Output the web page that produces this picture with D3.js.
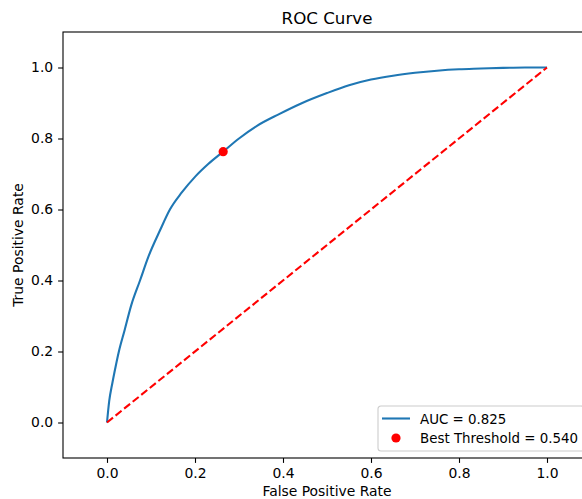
<!DOCTYPE html>
<html>
<head>
<meta charset="utf-8">
<script src="https://cdn.jsdelivr.net/npm/d3@7"></script>
<style>
  body { margin: 0; background: #fff; }
  svg text { font-family: "DejaVu Sans", sans-serif; }
</style>
</head>
<body>
<svg id="roc" width="582" height="499"></svg>
<script>
// values
var fpr = [0, 0.005, 0.012, 0.02, 0.027, 0.04, 0.055, 0.075, 0.095, 0.12, 0.143, 0.17, 0.2, 0.23, 0.264,
           0.3, 0.34, 0.39, 0.44, 0.5, 0.55, 0.6, 0.65, 0.7, 0.75, 0.8, 0.85, 0.9, 0.95, 1.0];
var tpr = [0, 0.06, 0.11, 0.16, 0.2, 0.26, 0.33, 0.4, 0.47, 0.54, 0.6, 0.648, 0.692, 0.728, 0.763,
           0.8, 0.835, 0.868, 0.898, 0.928, 0.95, 0.966, 0.977, 0.985, 0.991, 0.995, 0.997, 0.999, 1.0, 1.0];
var bestPoint = [0.264, 0.763];
var diagonal = [[0, 0], [1, 1]];
var ticks = [0, 0.2, 0.4, 0.6, 0.8, 1.0];
var aucLabel = "AUC = 0.825";
var bestLabel = "Best Threshold = 0.540";

var svg = d3.select("#roc"),
    margin = {top: 32, left: 63},
    width = 528,
    height = 426;

var g = svg.append("g").attr("transform", "translate(" + margin.left + "," + margin.top + ")");

var x = d3.scaleLinear().domain([-0.1, 1.1]).range([0, width]),
    y = d3.scaleLinear().domain([-0.1, 1.1]).range([height, 0]);

var line = d3.line()
    .x(function(d) { return x(d[0]); })
    .y(function(d) { return y(d[1]); });

var curve = fpr.map(function(f, i) { return [f, tpr[i]]; });

g.append("path")
    .datum(curve)
    .attr("d", line.curve(d3.curveMonotoneX))
    .attr("fill", "none")
    .attr("stroke", "#1f77b4")
    .attr("stroke-width", 2.1)
    .attr("stroke-linejoin", "round");

g.append("path")
    .datum(diagonal)
    .attr("d", line.curve(d3.curveLinear))
    .attr("fill", "none")
    .attr("stroke", "red")
    .attr("stroke-width", 2.1)
    .attr("stroke-dasharray", "7.7,3.3");

g.append("circle")
    .attr("cx", x(bestPoint[0]))
    .attr("cy", y(bestPoint[1]))
    .attr("r", 4.6)
    .attr("fill", "red");

// axes
var xAxis = g.append("g")
    .attr("transform", "translate(0," + height + ")")
    .call(d3.axisBottom(x).tickValues(ticks).tickFormat(d3.format(".1f")).tickSize(4.9).tickPadding(4.9));
var yAxis = g.append("g")
    .call(d3.axisLeft(y).tickValues(ticks).tickFormat(d3.format(".1f")).tickSize(4.9).tickPadding(4.9));

[xAxis, yAxis].forEach(function(a) {
  a.select(".domain").remove();
  a.selectAll("line").attr("stroke", "#000").attr("stroke-width", 1.1);
  a.selectAll("text").attr("font-size", "13.9px").attr("fill", "#000")
    .style("font-family", "DejaVu Sans, sans-serif");
});

// spines
g.append("rect")
    .attr("x", 0).attr("y", 0)
    .attr("width", width).attr("height", height)
    .attr("fill", "none")
    .attr("stroke", "#000")
    .attr("stroke-width", 1.1);

// titles
svg.append("text")
    .attr("x", margin.left + width / 2)
    .attr("y", 23.5)
    .attr("text-anchor", "middle")
    .attr("font-size", "16.7px")
    .text("ROC Curve");

svg.append("text")
    .attr("x", margin.left + width / 2)
    .attr("y", 496)
    .attr("text-anchor", "middle")
    .attr("font-size", "13.9px")
    .text("False Positive Rate");

svg.append("text")
    .attr("transform", "translate(23," + (margin.top + height / 2) + ") rotate(-90)")
    .attr("text-anchor", "middle")
    .attr("font-size", "13.9px")
    .text("True Positive Rate");

// legend
var legend = g.append("g").attr("transform", "translate(" + (378 - margin.left) + "," + (406 - margin.top) + ")");
legend.append("rect")
    .attr("width", 206).attr("height", 45)
    .attr("rx", 3).attr("ry", 3)
    .attr("fill", "#fff").attr("fill-opacity", 0.8)
    .attr("stroke", "#ccc").attr("stroke-width", 1.1);
legend.append("line")
    .attr("x1", 4).attr("x2", 32).attr("y1", 12.5).attr("y2", 12.5)
    .attr("stroke", "#1f77b4").attr("stroke-width", 2.1);
legend.append("circle")
    .attr("cx", 18).attr("cy", 32).attr("r", 4.6).attr("fill", "red");
legend.append("text").attr("x", 42).attr("y", 17.5).attr("font-size", "13.4px").text(aucLabel);
legend.append("text").attr("x", 42).attr("y", 37).attr("font-size", "13.4px").text(bestLabel);
</script>
</body>
</html>
